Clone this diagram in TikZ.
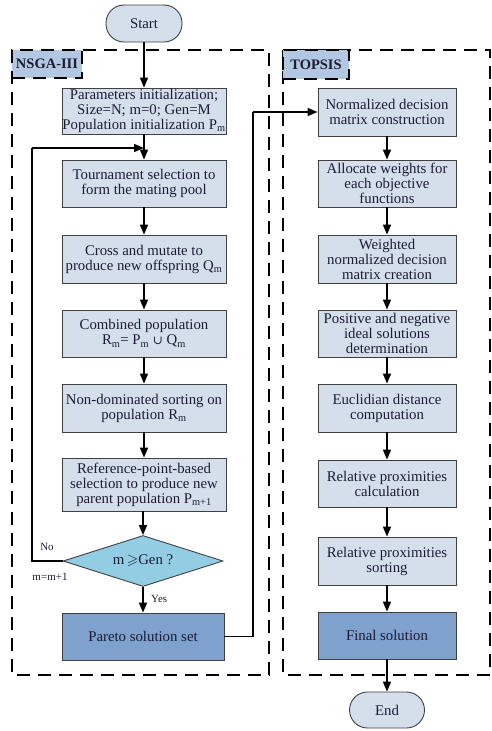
\documentclass[tikz,border=0pt]{standalone}
\usepackage{amssymb}
\usepackage{fontspec}
\setmainfont{Liberation Serif}
\newfontfamily\symfont{DejaVu Serif}
\usetikzlibrary{arrows.meta,shapes.geometric}
\definecolor{boxfill}{HTML}{D5DFEC}
\definecolor{diafill}{HTML}{93CDE3}
\definecolor{darkfill}{HTML}{7EA1CD}
\definecolor{labfill}{HTML}{B4C7E2}
\definecolor{txt}{HTML}{1C1C34}
\begin{document}
\begin{tikzpicture}[x=1pt,y=-1pt,
  base/.style={draw=black!75, line width=0.9pt, align=center, text=txt,
    font=\fontsize{14.8}{15}\selectfont, inner sep=0pt},
  nbox/.style={base, fill=boxfill, minimum width=164pt},
  tbox/.style={base, fill=boxfill, minimum width=138pt},
  dbox/.style={base, fill=darkfill},
  term/.style={base, fill=boxfill, rounded corners=18pt},
  dia/.style={base, fill=diafill, shape=diamond, aspect=3.1, minimum width=160pt, minimum height=51pt},
  region/.style={draw=black, line width=1.8pt, dash pattern=on 13pt off 8pt},
  lab/.style={region, fill=labfill, text=txt, font=\fontsize{14.5}{15}\selectfont\bfseries, inner sep=0pt},
  small/.style={text=txt, font=\fontsize{11}{12}\selectfont, inner sep=0pt},
  arr/.style={-{Triangle[length=10pt,width=8pt]}, line width=1.6pt},
  ln/.style={line width=1.6pt}
]
\useasboundingbox (0,0) rectangle (491,731);

% regions
\draw[region] (12,50) rectangle (269,675);
\draw[region] (283,50) rectangle (490,675);
\node[lab, minimum width=70pt, minimum height=28pt] (nlab) at (47,64) {NSGA-III};
\node[lab, minimum width=66pt, minimum height=29pt] (tlab) at (316,64.5) {TOPSIS};

% terminals
\node[term, minimum width=76pt, minimum height=37pt] (start) at (144,23.5) {Start};
\node[term, minimum width=75pt, minimum height=36pt] (end) at (387,710) {End};

% NSGA-III column
\node[nbox, minimum height=46pt] (params) at (144,111) {Parameters initialization;\\Size=N; m=0; Gen=M\\Population initialization P\textsubscript{m}};
\node[nbox, minimum height=47pt] (tourn) at (144,183.5) {Tournament selection to\\form the mating pool};
\node[nbox, minimum height=48pt] (cross) at (144,259) {Cross and mutate to\\produce new offspring Q\textsubscript{m}};
\node[nbox, minimum height=47pt] (comb) at (144,333.5) {Combined population\\R\textsubscript{m}= P\textsubscript{m} {\symfont\fontsize{12}{15}\selectfont ∪} Q\textsubscript{m}};
\node[nbox, minimum height=48pt] (nond) at (144,408) {Non-dominated sorting on\\population R\textsubscript{m}};
\node[nbox, minimum height=53pt] (refp) at (144,484.5) {Reference-point-based\\selection to produce new\\parent population P\textsubscript{m+1}};
\node[dia] (dec) at (143,561) {m\,$\geqslant$Gen ?};
\node[dbox, minimum width=162pt, minimum height=47pt] (pareto) at (143,636.5) {Pareto solution set};

% TOPSIS column
\node[tbox, minimum height=48pt] (norm) at (387,112) {Normalized decision\\matrix construction};
\node[tbox, minimum height=47pt] (alloc) at (387,183.5) {Allocate weights for\\each objective\\functions};
\node[tbox, minimum height=48pt] (wnorm) at (387,259) {Weighted\\normalized decision\\matrix creation};
\node[tbox, minimum height=47pt] (posneg) at (387,333.5) {Positive and negative\\ideal solutions\\determination};
\node[tbox, minimum height=48pt] (eucl) at (387,408) {Euclidian distance\\computation};
\node[tbox, minimum height=47pt] (rcalc) at (387,483.5) {Relative proximities\\calculation};
\node[tbox, minimum height=48pt] (rsort) at (387,561) {Relative proximities\\sorting};
\node[dbox, minimum width=138pt, minimum height=47pt] (final) at (387,635.5) {Final solution};

% labels
\node[small] (no) at (47,547) {No};
\node[small] (mm) at (50,577) {m=m+1};
\node[small, anchor=west] (yes) at (151,599) {Yes};

% coordinates
\coordinate (j) at (144,148);
\coordinate (lp) at (32,148);
\coordinate (rx) at (253,112);

% connectors
\draw[arr] (start) -- (params);
\draw[arr] (params) -- (tourn);
\draw[arr] (tourn) -- (cross);
\draw[arr] (cross) -- (comb);
\draw[arr] (comb) -- (nond);
\draw[arr] (nond) -- (refp);
\draw[arr] (refp.south -| dec.north) -- (dec.north);
\draw[arr] (dec) -- (pareto);
\draw[ln] (dec.west) -| (lp);
\draw[arr] (lp) -- (j);
\draw[ln] (pareto.east) -| (rx);
\draw[arr] (rx) -- (norm.west);
\draw[arr] (norm) -- (alloc);
\draw[arr] (alloc) -- (wnorm);
\draw[arr] (wnorm) -- (posneg);
\draw[arr] (posneg) -- (eucl);
\draw[arr] (eucl) -- (rcalc);
\draw[arr] (rcalc) -- (rsort);
\draw[arr] (rsort) -- (final);
\draw[arr] (final) -- (end);
\end{tikzpicture}
\end{document}
